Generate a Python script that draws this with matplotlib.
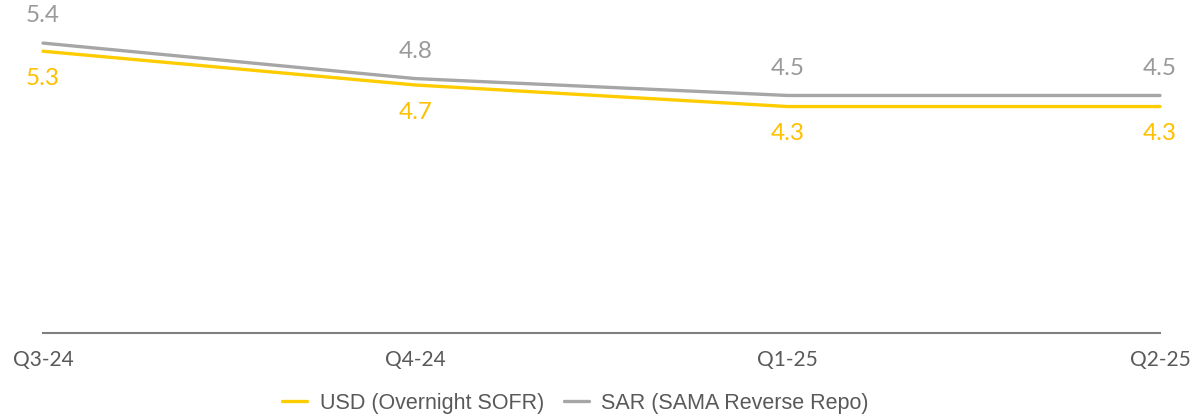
import matplotlib
matplotlib.use("Agg")
import matplotlib.pyplot as plt

quarters = ["Q3-24", "Q4-24", "Q1-25", "Q2-25"]
usd_sofr = [5.26, 4.68, 4.31, 4.31]
sar_repo = [5.40, 4.79, 4.50, 4.50]
usd_labels = ["5.3", "4.7", "4.3", "4.3"]
sar_labels = ["5.4", "4.8", "4.5", "4.5"]

YELLOW = "#FFCC00"
YELLOW_TXT = "#FFC000"
GRAY = "#A6A6A6"
GRAY_TXT = "#9A9A9A"

W, H = 1194, 415
fig = plt.figure(figsize=(W / 100, H / 100), dpi=100)
ax = fig.add_axes([43 / W, (H - 333) / H, (1160 - 43) / W, 333 / H])

x = list(range(len(quarters)))
l1, = ax.plot(x, usd_sofr, color=YELLOW, lw=2.4, solid_capstyle="round",
              label="USD (Overnight SOFR)", clip_on=False, zorder=3)
l2, = ax.plot(x, sar_repo, color=GRAY, lw=2.4, solid_capstyle="round",
              label="SAR (SAMA Reverse Repo)", clip_on=False, zorder=2)

ax.set_xlim(0, 3)
ax.set_ylim(0.42, 6.14)

for xi, v, t in zip(x, sar_repo, sar_labels):
    ax.annotate(t, (xi, v), xytext=(0, 19.5), textcoords="offset points",
                ha="center", va="center", fontsize=17.5, family="Lato",
                color=GRAY_TXT, annotation_clip=False)
for xi, v, t in zip(x, usd_sofr, usd_labels):
    ax.annotate(t, (xi, v), xytext=(0, -19.5), textcoords="offset points",
                ha="center", va="center", fontsize=17.5, family="Lato",
                color=YELLOW_TXT, annotation_clip=False)

for s in ["top", "right", "left"]:
    ax.spines[s].set_visible(False)
ax.spines["bottom"].set_color("#7F7F7F")
ax.spines["bottom"].set_linewidth(1.5)
ax.set_yticks([])
ax.set_xticks(x)
ax.set_xticklabels(quarters, fontsize=15, family="Lato", color="#595959")
ax.tick_params(axis="x", length=0, pad=12)

fig.legend(handles=[l1, l2], loc="center", bbox_to_anchor=(575.5 / W, 12 / H),
           ncol=2, frameon=False, prop={"family": "Liberation Sans", "size": 15.5},
           labelcolor="#595959", handlelength=1.16, handletextpad=0.6,
           columnspacing=0.9)

fig.savefig("out.png", dpi=100)
